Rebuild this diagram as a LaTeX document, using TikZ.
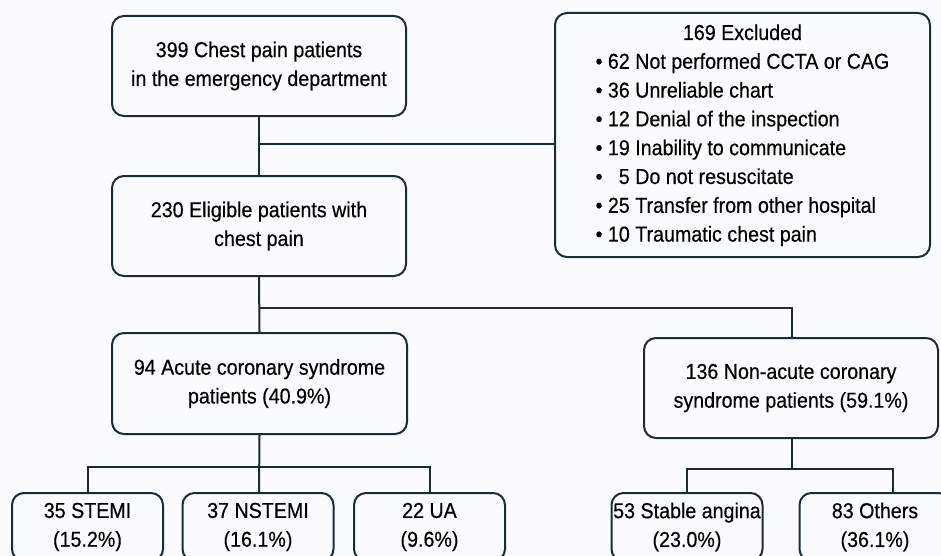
\documentclass[tikz,border=0pt]{standalone}
\usepackage{fontspec}
\setmainfont{Liberation Sans}[FakeStretch=0.91,FakeBold=0.4]
\usepackage{tikz}
\usetikzlibrary{positioning,calc}

\definecolor{bgGray}{RGB}{250,251,252}
\definecolor{lineDark}{RGB}{28,44,50}

\begin{document}
\begin{tikzpicture}[x=0.5pt,y=-0.5pt]

    \tikzstyle{commonNode}=[draw=lineDark, line width=1pt, fill=bgGray, rounded corners=6pt, align=center, inner sep=0pt, font=\fontsize{10.8}{14.4}\selectfont]
    \tikzstyle{stage}=[commonNode, minimum width=147pt, minimum height=50pt]
    \tikzstyle{leaf}=[commonNode, minimum width=75.5pt, minimum height=34pt]
    \tikzstyle{link}=[draw=lineDark, line width=1pt]

    % Canvas
    \path[use as bounding box, fill=bgGray] (0,0) rectangle (941,556);
    \clip (0,0) rectangle (941,556);

    % Main flow
    \node at (259, 66)    [stage]  (chest)   {399 Chest pain patients\\in the emergency department};
    \node at (259, 226)   [stage]  (elig)    {230 Eligible patients with\\chest pain};
    \node at (742.5, 135) [commonNode, minimum width=187.5pt, minimum height=122pt] (excl)
        {\raisebox{-2pt}{\begin{tabular}{@{}l@{}}
            \multicolumn{1}{c}{169 Excluded\hspace{16pt}}\\
            • 62 Not performed CCTA or CAG\\
            • 36 Unreliable chart\\
            • 12 Denial of the inspection\\
            • 19 Inability to communicate\\
            • \phantom{0}5 Do not resuscitate\\
            • 25 Transfer from other hospital\\
            • 10 Traumatic chest pain
        \end{tabular}}};

    % Diagnosis groups
    \node at (259.5, 383.5) [stage, minimum width=147.5pt, minimum height=50.5pt] (acs)    {94 Acute coronary syndrome\\patients (40.9\%)};
    \node at (791, 388)     [stage]  (nonacs) {136 Non-acute coronary\\syndrome patients (59.1\%)};

    % Subgroups
    \node at (87.5, 527)  [leaf] (stemi)   {35 STEMI\\(15.2\%)};
    \node at (258, 527)   [leaf] (nstemi)  {37 NSTEMI\\(16.1\%)};
    \node at (429.5, 527) [leaf] (ua)      {22 UA\\(9.6\%)};
    \node at (687, 527)   [leaf] (stable)  {53 Stable angina\\(23.0\%)};
    \node at (875, 527)   [leaf] (others)  {83 Others\\(36.1\%)};

    % Junctions
    \coordinate (exclJoin) at (259, 144);
    \coordinate (groupJoin) at (259, 308);
    \coordinate (acsJoin) at (259, 467);
    \coordinate (nonacsJoin) at (792, 469);

    % Connectors
    \draw[link] (chest.south) -- (elig.north);
    \draw[link] (exclJoin) -- (exclJoin -| excl.west);
    \draw[link] (elig.south) -- (acs.north);
    \draw[link] (groupJoin) -| (nonacs.north -| nonacsJoin);

    \draw[link] (acs.south) -- (stemi.north -| acsJoin);
    \draw[link] (stemi.north) |- (acsJoin) -| (ua.north);

    \draw[link] (nonacs.south -| nonacsJoin) -- (nonacsJoin);
    \draw[link] (stable.north) |- (nonacsJoin) -| ([xshift=9pt]others.north);

\end{tikzpicture}
\end{document}
